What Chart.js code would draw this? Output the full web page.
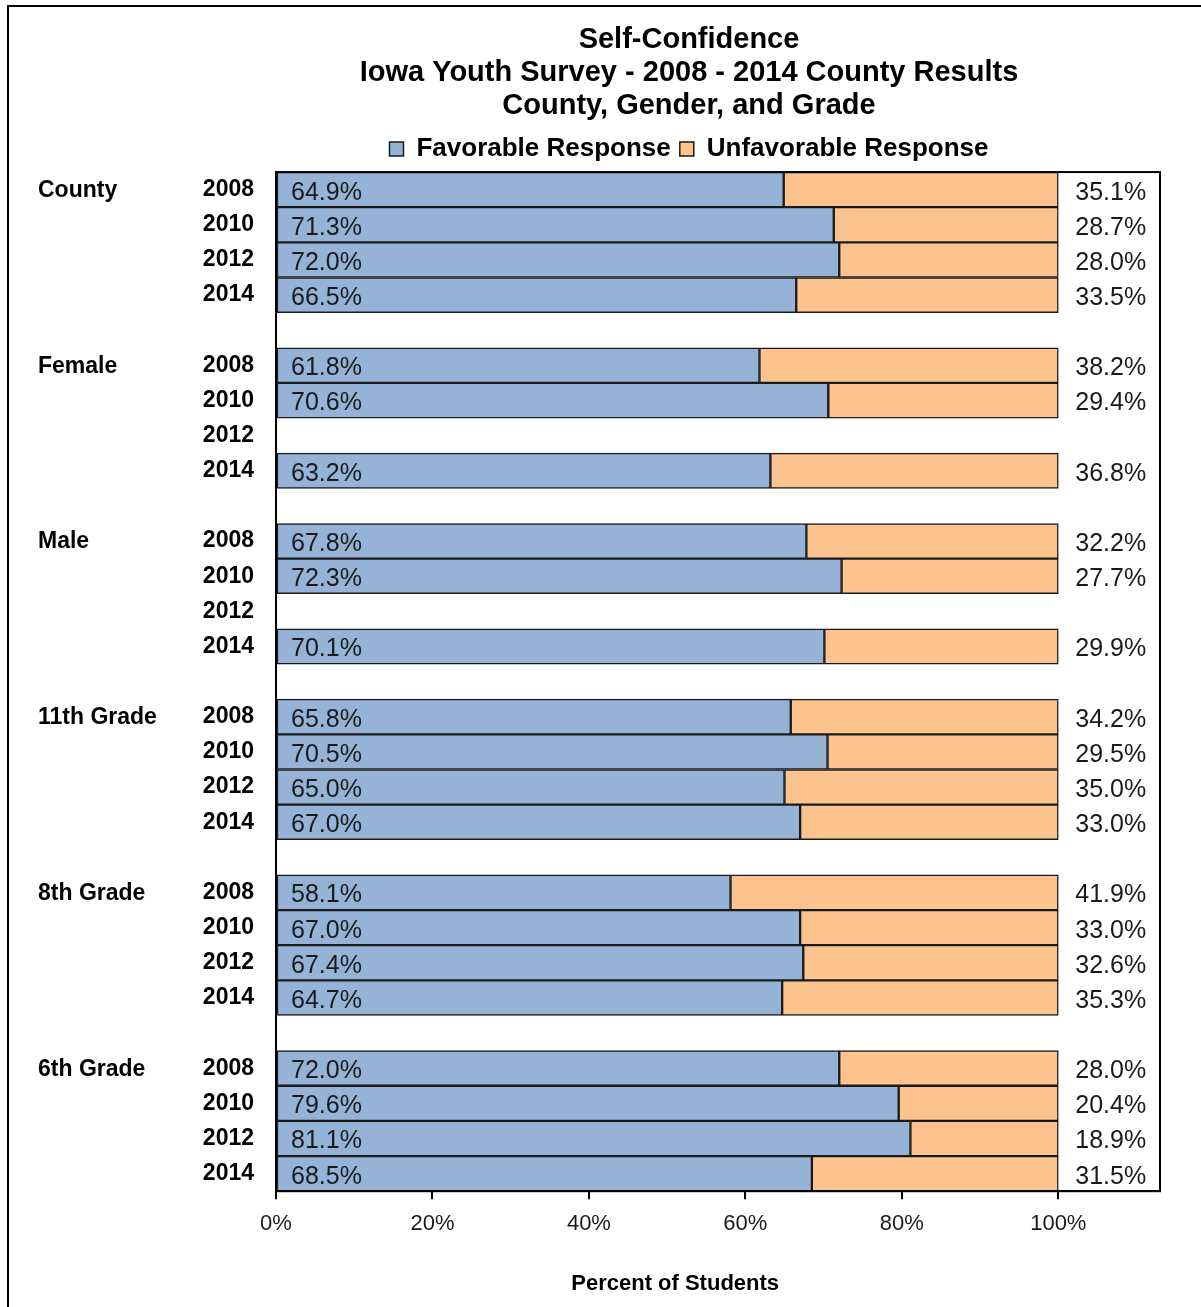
<!DOCTYPE html>
<html>
<head>
<meta charset="utf-8">
<script src="https://cdn.jsdelivr.net/npm/chart.js@4/dist/chart.umd.min.js"></script>
<style>
  html, body { margin: 0; padding: 0; background: #ffffff; }
  #wrap { width: 1201px; height: 1307px; position: relative; }
</style>
</head>
<body>
<div id="wrap"><canvas id="c" width="1201" height="1307"></canvas></div>
<script>
// ---- data ----
const groups = ['County', 'Female', 'Male', '11th Grade', '8th Grade', '6th Grade'];
const years = ['2008', '2010', '2012', '2014'];
const countyFav = [64.9, 71.3, 72.0, 66.5];
const countyUnfav = [35.1, 28.7, 28.0, 33.5];
const femaleFav = [61.8, 70.6, null, 63.2];
const femaleUnfav = [38.2, 29.4, null, 36.8];
const maleFav = [67.8, 72.3, null, 70.1];
const maleUnfav = [32.2, 27.7, null, 29.9];
const grade11Fav = [65.8, 70.5, 65.0, 67.0];
const grade11Unfav = [34.2, 29.5, 35.0, 33.0];
const grade8Fav = [58.1, 67.0, 67.4, 64.7];
const grade8Unfav = [41.9, 33.0, 32.6, 35.3];
const grade6Fav = [72.0, 79.6, 81.1, 68.5];
const grade6Unfav = [28.0, 20.4, 18.9, 31.5];
const xTickValues = [0, 20, 40, 60, 80, 100];
const seriesNames = ['Favorable Response', 'Unfavorable Response'];
const titleLines = ['Self-Confidence', 'Iowa Youth Survey - 2008 - 2014 County Results', 'County, Gender, and Grade'];
const xAxisTitle = 'Percent of Students';

// ---- build rows (with a blank row between groups) ----
const favGroups = [countyFav, femaleFav, maleFav, grade11Fav, grade8Fav, grade6Fav];
const unfavGroups = [countyUnfav, femaleUnfav, maleUnfav, grade11Unfav, grade8Unfav, grade6Unfav];
const rowLabels = [], favData = [], unfavData = [], groupStartRows = [];
groups.forEach((g, gi) => {
  groupStartRows.push(rowLabels.length);
  years.forEach((y, yi) => {
    rowLabels.push(y);
    favData.push(favGroups[gi][yi]);
    unfavData.push(unfavGroups[gi][yi]);
  });
  if (gi < groups.length - 1) {
    rowLabels.push('');
    favData.push(null);
    unfavData.push(null);
  }
});

const FONT = '"Liberation Sans", Arial, Helvetica, sans-serif';
const BLUE = '#95B3D7';
const ORANGE = '#FCC38F';
const EDGE = '#1a1a1a';

const framePlugin = {
  id: 'frame',
  afterLayout(chart) {
    // let the year labels extend left of the (narrow) y-axis box without clipping
    chart.scales.y.left = 150;
  },
  beforeDraw(chart) {
    const ctx = chart.ctx;
    ctx.save();
    ctx.fillStyle = '#ffffff';
    ctx.fillRect(0, 0, chart.width, chart.height);
    ctx.strokeStyle = '#000000';
    ctx.lineWidth = 2;
    ctx.strokeRect(8, 6, chart.width + 10, chart.height + 10);
    ctx.restore();
  },
  afterDraw(chart) {
    const ctx = chart.ctx;
    const a = chart.chartArea;
    const xs = chart.scales.x;
    ctx.save();
    ctx.strokeStyle = '#000000';
    ctx.lineWidth = 2;
    ctx.strokeRect(a.left, a.top, a.right - a.left, a.bottom - a.top);
    // x-axis title centred under the 0%..100% span
    ctx.fillStyle = '#000000';
    ctx.font = 'bold 22px ' + FONT;
    ctx.textAlign = 'center';
    ctx.textBaseline = 'middle';
    const cx = (xs.getPixelForValue(0) + xs.getPixelForValue(100)) / 2 + 8;
    ctx.fillText(xAxisTitle, cx, xs.bottom - 4 - 13);
    ctx.restore();
  }
};

const labelPlugin = {
  id: 'valueLabels',
  afterDatasetsDraw(chart) {
    const ctx = chart.ctx;
    const xs = chart.scales.x, ys = chart.scales.y;
    ctx.save();
    ctx.fillStyle = '#1a1a1a';
    ctx.font = '25px ' + FONT;
    ctx.textAlign = 'left';
    ctx.textBaseline = 'middle';
    const x0 = xs.getPixelForValue(0) + 15;
    const x100 = xs.getPixelForValue(100) + 17;
    for (let i = 0; i < rowLabels.length; i++) {
      const y = ys.getPixelForValue(i) + 3;
      if (favData[i] != null) ctx.fillText(favData[i].toFixed(1) + '%', x0, y);
      if (unfavData[i] != null) ctx.fillText(unfavData[i].toFixed(1) + '%', x100, y);
    }
    // group labels
    ctx.fillStyle = '#000000';
    ctx.font = 'bold 23px ' + FONT;
    groups.forEach((g, gi) => {
      ctx.fillText(g, 38, ys.getPixelForValue(groupStartRows[gi]) + 1);
    });
    ctx.restore();
  }
};

new Chart(document.getElementById('c'), {
  type: 'bar',
  data: {
    labels: rowLabels,
    datasets: [
      { label: seriesNames[0], data: favData, backgroundColor: BLUE, borderColor: EDGE, borderWidth: 1.5, borderSkipped: false, categoryPercentage: 1, barPercentage: 1 },
      { label: seriesNames[1], data: unfavData, backgroundColor: ORANGE, borderColor: EDGE, borderWidth: 1.5, borderSkipped: false, categoryPercentage: 1, barPercentage: 1 }
    ]
  },
  options: {
    indexAxis: 'y',
    responsive: false,
    animation: false,
    events: [],
    layout: { padding: { top: 12, left: 218, right: 41, bottom: 6 } },
    plugins: {
      tooltip: { enabled: false },
      title: {
        display: true,
        text: titleLines,
        color: '#000000',
        font: { family: FONT, size: 29, weight: 'bold', lineHeight: 1.15 },
        padding: { top: 11, bottom: 4 }
      },
      legend: {
        display: true,
        position: 'top',
        labels: {
          color: '#000000',
          font: { family: FONT, size: 26, weight: 'bold' },
          boxWidth: 14,
          boxHeight: 14,
          padding: 9,
          generateLabels(chart) {
            return chart.data.datasets.map((ds, i) => ({
              text: ds.label,
              fillStyle: ds.backgroundColor,
              strokeStyle: EDGE,
              lineWidth: 1.5,
              datasetIndex: i,
              hidden: false,
              fontColor: '#000000'
            }));
          }
        }
      }
    },
    scales: {
      x: {
        stacked: true,
        min: 0,
        max: 113,
        afterBuildTicks(scale) {
          scale.ticks = xTickValues.map(v => ({ value: v }));
        },
        ticks: {
          color: '#1a1a1a',
          font: { family: FONT, size: 22 },
          padding: 12,
          maxRotation: 0,
          callback: (v) => v + '%'
        },
        grid: { display: true, drawOnChartArea: false, drawTicks: true, tickLength: 8, color: '#000000', lineWidth: 2 },
        border: { display: true, color: '#000000', width: 2 },
        title: {
          display: true,
          text: xAxisTitle,
          color: 'rgba(0,0,0,0)',
          font: { family: FONT, size: 22, weight: 'bold' },
          padding: { top: 21, bottom: 4 }
        }
      },
      y: {
        stacked: true,
        offset: true,
        afterFit(scale) { scale.width = 276 - 218; },
        ticks: {
          autoSkip: false,
          color: '#000000',
          font: { family: FONT, size: 23, weight: 'bold' },
          padding: 22
        },
        grid: { display: false, drawTicks: false },
        border: { display: true, color: '#000000', width: 2 }
      }
    }
  },
  plugins: [framePlugin, labelPlugin]
});
</script>
</body>
</html>
